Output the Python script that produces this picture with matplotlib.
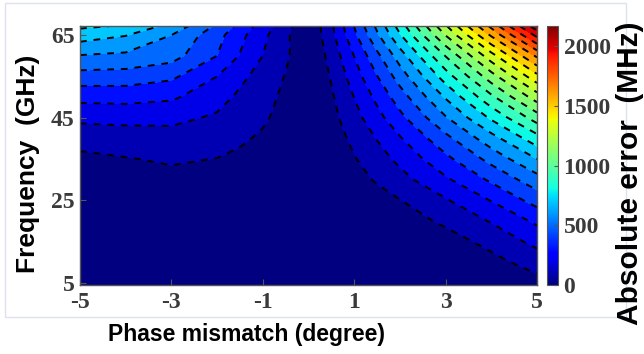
import matplotlib.pyplot as plt
import numpy as np
from matplotlib import colors as mcolors
from matplotlib.patches import Rectangle

# phase mismatch (degree) and frequency (GHz) grid
phase_left = [-5, -4, -3, -2, -1.5, -1, -0.5, 0]
phase_right = [0.5, 1, 1.5, 2, 3, 4, 5]
freq = [4.5, 10, 15, 20, 25, 30, 35, 40, 45, 50, 55, 60, 65, 67.2]

# absolute error (MHz), one row per frequency
err_left = [
    [1, 1, 1, 1, 1, 0, 0, 0],
    [3, 4, 5, 4, 3, 2, 1, 0],
    [8, 10, 12, 11, 9, 6, 3, 0],
    [17, 21, 25, 22, 18, 13, 7, 0],
    [30, 38, 44, 40, 32, 23, 12, 1],
    [50, 62, 72, 65, 52, 38, 20, 1],
    [78, 95, 112, 98, 80, 58, 30, 2],
    [135, 150, 158, 140, 115, 85, 45, 3],
    [225, 230, 228, 185, 150, 115, 65, 4],
    [330, 335, 315, 240, 180, 130, 82, 5],
    [460, 455, 420, 300, 225, 160, 95, 6],
    [595, 580, 540, 400, 295, 200, 120, 8],
    [750, 705, 600, 435, 330, 225, 120, 10],
    [820, 790, 670, 485, 370, 255, 140, 10],
]
err_right = [
    [0, 0, 1, 3, 11, 29, 60],
    [0, 1, 3, 8, 29, 71, 140],
    [1, 3, 9, 20, 60, 128, 230],
    [3, 13, 30, 53, 118, 208, 320],
    [8, 30, 60, 97, 190, 305, 440],
    [22, 63, 111, 164, 284, 417, 560],
    [36, 93, 157, 225, 374, 533, 700],
    [50, 124, 205, 291, 471, 661, 860],
    [68, 164, 266, 372, 591, 817, 1050],
    [86, 202, 325, 451, 710, 978, 1250],
    [108, 250, 397, 545, 850, 1157, 1470],
    [133, 303, 475, 650, 1005, 1360, 1720],
    [170, 376, 583, 790, 1204, 1616, 2030],
    [181, 402, 623, 844, 1287, 1728, 2170],
]

xticks = [-5, -3, -1, 1, 3, 5]
xticklabels = ['-5', '-3', '-1', '1', '3', '5']
yticks = [5, 25, 45, 65]
cticks = [0, 500, 1000, 1500, 2000]

phase = np.array(phase_left + phase_right)
err = np.hstack([np.array(err_left), np.array(err_right)])
P, F = np.meshgrid(phase, freq)

vmax = err.max()
levels = np.arange(0, 2300, 100)
norm = mcolors.Normalize(0, vmax)
jet = plt.get_cmap('jet')
band_colors = [jet(norm(l)) for l in levels[:-1]]

fig = plt.figure(figsize=(6.44, 3.54), dpi=100)
ax = fig.add_axes([80 / 644, 69 / 354, 457 / 644, 259 / 354])
ax.contourf(P, F, err, levels=levels, colors=band_colors)
ax.contour(P, F, err, levels=levels[1:], colors='k',
           linestyles=[(0, (3.5, 3.5))], linewidths=1.4)
ax.set_xlim(-5, 5)
ax.set_ylim(4.5, 67.2)

tick_font = dict(family='Liberation Serif', weight='bold', size=17, color='#3a3a3a')
ax.set_xticks(xticks)
ax.set_xticklabels(xticklabels, **tick_font)
ax.set_yticks(yticks)
ax.set_yticklabels([str(v) for v in yticks], **tick_font)
ax.tick_params(direction='in', length=4, width=0.8, color='#555555', pad=5)
ax.tick_params(axis='y', pad=4)
for s in ax.spines.values():
    s.set_color('#555555')
    s.set_linewidth(1.0)

cax = fig.add_axes([547 / 644, 69 / 354, 11 / 644, 259 / 354])
sm = plt.cm.ScalarMappable(norm=norm, cmap=jet)
cb = fig.colorbar(sm, cax=cax, ticks=cticks)
cb.outline.set_edgecolor('#555555')
cb.outline.set_linewidth(0.8)
cax.set_yticklabels([str(v) for v in cticks], **tick_font)
cax.tick_params(direction='in', length=3, width=0.8, color='#555555', pad=4)

label_font = dict(family='Liberation Sans', weight='bold', color='black')
fig.text(246 / 644, 1 - 334 / 354, 'Phase mismatch (degree)', ha='center', va='center',
         size=16.5, **label_font)
fig.text(28 / 644, 1 - 164 / 354, 'Frequency  (GHz)', ha='center', va='center',
         rotation=90, size=19, **label_font)
fig.text(630 / 644, 1 - 173 / 354, 'Absolute error  (MHz)', ha='center', va='center',
         rotation=90, size=21.5, **label_font)

fig.patches.append(Rectangle((5 / 644, 1 - 317 / 354), 621 / 644, 314 / 354,
                             transform=fig.transFigure, fill=False,
                             edgecolor='#dbe4ee', linewidth=1.0, zorder=-1))

fig.savefig('out.png', dpi=100)
